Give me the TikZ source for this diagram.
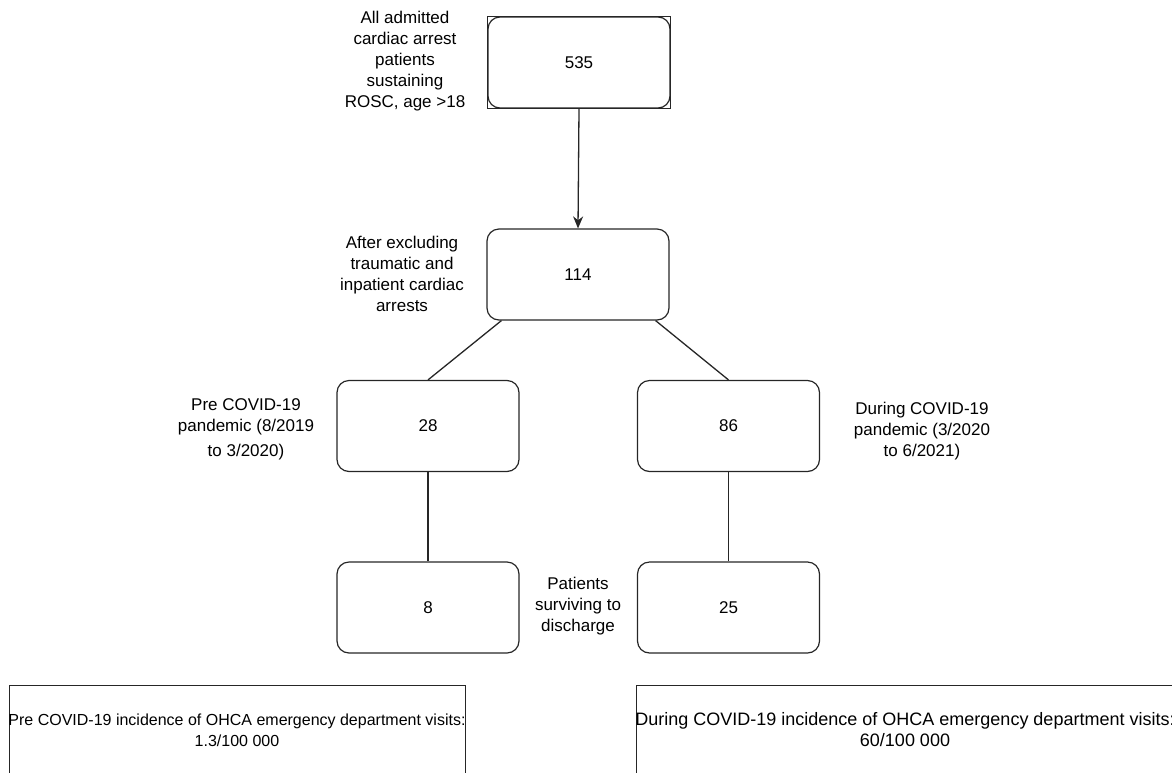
\documentclass[tikz,border=0pt]{standalone}
\usepackage{fontspec}
\setmainfont{Liberation Sans}
\usetikzlibrary{arrows.meta,calc}
\newcommand{\fsz}[2]{\fontsize{#1}{#2}\selectfont}
\begin{document}
\begin{tikzpicture}[x=1pt,y=-1pt,
  box/.style={draw=black!85, line width=1.2pt, rounded corners=12pt, minimum width=182pt, minimum height=91pt, inner sep=0pt, font=\fsz{17}{20}},
  lbl/.style={align=center, font=\fsz{17}{21}, inner sep=0pt},
  link/.style={draw=black!85, line width=1.3pt},
  incbox/.style={draw=black!85, line width=0.9pt, anchor=north west, inner sep=0pt, minimum height=110pt}]
\useasboundingbox (0,0) rectangle (1172,772);
\clip (0,0) rectangle (1172,772);
% boxes
\node[box] (b535) at (579,62.5) {535};
\draw[black!85, line width=0.8pt] (b535.south west) rectangle (b535.north east);
\node[box] (b114) at (578,274.5) {114};
\node[box] (b28) at (428,426) {28};
\node[box] (b86) at (728.5,426) {86};
\node[box] (b8) at (428,607.5) {8};
\node[box] (b25) at (728.5,607.5) {25};
% labels
\node[lbl] (l535) at (405,61) {All admitted\\cardiac arrest\\patients\\sustaining\\ROSC, age >18};
\node[lbl] (l114) at (402,274) {After excluding\\traumatic and\\inpatient cardiac\\arrests};
\node[lbl] (l28) at (246,429) {Pre COVID-19\\pandemic (8/2019\\[4pt]to 3/2020)};
\node[lbl] (l86) at (922,431) {During COVID-19\\pandemic (3/2020\\to 6/2021)};
\node[lbl] (l8) at (578,606) {Patients\\surviving to\\discharge};
% connectors
\draw[link,-{Stealth[length=12pt,width=10pt]}] (b535.south) -- (b114.north);
\draw[link] ($(b114.south west)+(15,0)$) -- (b28.north);
\draw[link] ($(b114.south east)+(-14,0)$) -- (b86.north);
\draw[link] (b28.south) -- (b8.north);
\draw[link] (b86.south) -- (b25.north);
% incidence boxes
\node[incbox, minimum width=456pt] (inc1) at (9,685) {};
\node[lbl, font=\fsz{16}{21}] (t1) at (237,730) {Pre COVID-19 incidence of OHCA emergency department visits:\\1.3/100 000};
\node[incbox, minimum width=560pt] (inc2) at (636,685) {};
\node[lbl, font=\fsz{18}{21}] (t2) at (905,730) {During COVID-19 incidence of OHCA emergency department visits:\\60/100 000};
\end{tikzpicture}
\end{document}
